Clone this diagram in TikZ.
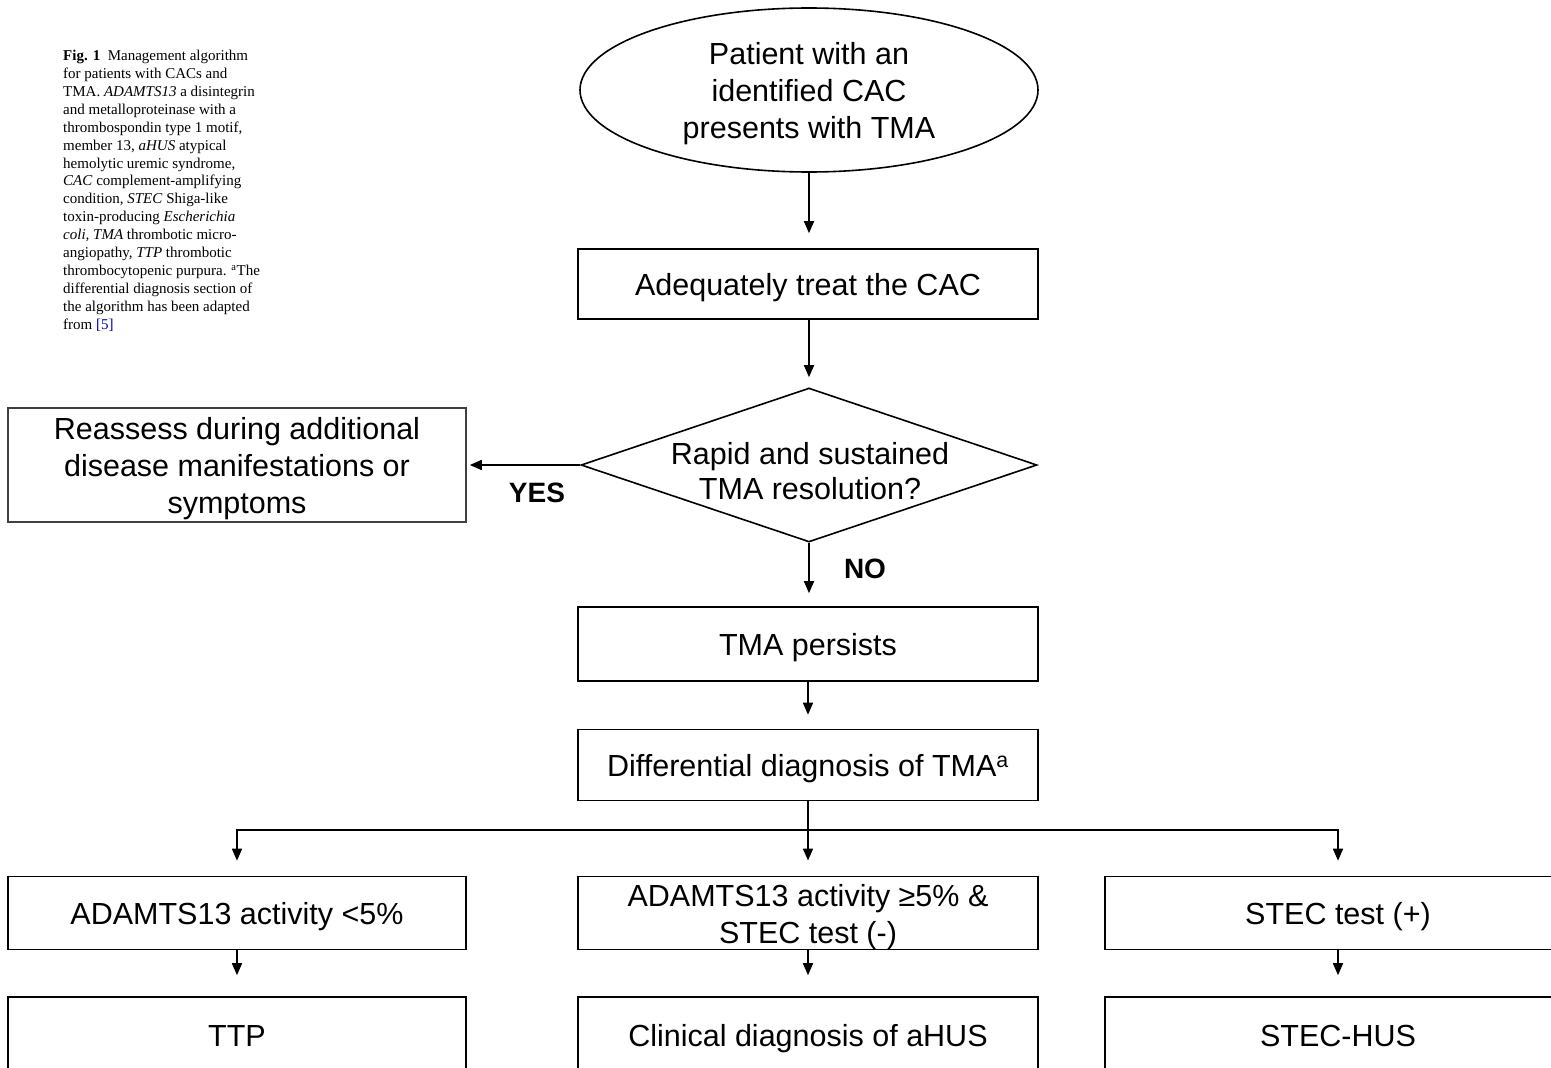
\documentclass[tikz,border=0pt]{standalone}
\usepackage{fontspec}
\setmainfont{Liberation Serif}
\newfontfamily\arialf{Liberation Sans}
\usetikzlibrary{shapes.geometric,arrows.meta}
\newcommand\dn{\rule[-7pt]{0pt}{37pt}}
\newcommand\up{\rule{0pt}{30pt}}
\begin{document}
\begin{tikzpicture}[x=1pt,y=-1pt,
 box/.style={draw=black, line width=1.6pt, rectangle, inner sep=0pt, align=center, font=\arialf\fontsize{30.5}{37}\selectfont},
 txt/.style={inner sep=0pt, align=center, font=\arialf\fontsize{30.5}{35}\selectfont},
 arr/.style={line width=1.6pt, -{Triangle[length=12pt,width=10pt]}},
 lbl/.style={inner sep=0pt, font=\arialf\bfseries\fontsize{28}{34}\selectfont}]
\useasboundingbox (0,0) rectangle (1551,1068);
\clip (0,0) rectangle (1551,1068);
\fill[white] (0,0) rectangle (1551,1068);

\node[anchor=north west, align=left, inner sep=0pt, font=\fontsize{15}{17.9}\selectfont] (cap) at (63,50)
{\textbf{Fig. 1}\enspace Management algorithm\\
for patients with CACs and\\
TMA. \textit{ADAMTS13} a disintegrin\\
and metalloproteinase with a\\
thrombospondin type 1 motif,\\
member 13, \textit{aHUS} atypical\\
hemolytic uremic syndrome,\\
\textit{CAC} complement-amplifying\\
condition, \textit{STEC} Shiga-like\\
toxin-producing \textit{Escherichia}\\
\textit{coli, TMA} thrombotic micro-\\
angiopathy, \textit{TTP} thrombotic\\
thrombocytopenic purpura. \textsuperscript{a}The\\
differential diagnosis section of\\
the algorithm has been adapted\\
from \textcolor{blue!70!black}{[5]}};

\node[box, ellipse, minimum width=458pt, minimum height=164pt] (ell) at (809,90)
{\up Patient with an\\identified CAC\\presents with TMA};
\node[box, minimum width=460pt, minimum height=70pt] (b1) at (808,284) {\dn Adequately treat the CAC};
\node[draw=black, line width=1.6pt, diamond, minimum width=456pt, minimum height=154pt, inner sep=0pt] (dec) at (809,465) {};
\node[txt] (dect) at (810,471) {Rapid and sustained\\TMA resolution?};
\node[box, draw=black!75, minimum width=458pt, minimum height=114pt] (re) at (237,465)
{\up Reassess during additional\\disease manifestations or\\symptoms};
\node[box, minimum width=460pt, minimum height=74pt] (b3) at (808,644) {\dn TMA persists};
\node[box, minimum width=460pt, minimum height=71pt] (b4) at (808,765) {\dn Differential diagnosis of TMA\textsuperscript{a}};

\node[box, minimum width=458pt, minimum height=73pt] (r1l) at (237,913) {\dn ADAMTS13 activity {<}5\%};
\node[box, minimum width=460pt, minimum height=73pt] (r1m) at (808,913) {\up ADAMTS13 activity ≥5\% \&\\STEC test (-)};
\node[box, minimum width=466pt, minimum height=73pt] (r1r) at (1338,913) {\dn STEC test (+)};
\node[box, minimum width=458pt, minimum height=76pt] (r2l) at (237,1035) {\dn TTP};
\node[box, minimum width=460pt, minimum height=76pt] (r2m) at (808,1035) {\dn Clinical diagnosis of aHUS};
\node[box, minimum width=466pt, minimum height=76pt] (r2r) at (1338,1035) {\dn STEC-HUS};

\node[lbl] (yes) at (537,493) {YES};
\node[lbl] (no) at (865,569) {NO};

\draw[arr, shorten >=15pt] (ell.south) -- (ell.south |- b1.north);
\draw[arr, shorten >=10pt] (b1.south -| dec.north) -- (dec.north);
\draw[arr, shorten >=3pt] (dec.west) -- (re.east);
\draw[arr, shorten >=13pt] (dec.south) -- (dec.south |- b3.north);
\draw[arr, shorten >=14pt] (b3) -- (b4);
\draw[line width=1.6pt] (b4.south) -- (808,830) coordinate (j);
\draw[arr, shorten >=15pt] (j) -| (r1l.north);
\draw[arr, shorten >=15pt] (j) -- (r1m.north);
\draw[arr, shorten >=15pt] (j) -| (r1r.north);
\draw[arr, shorten >=21pt] (r1l) -- (r2l);
\draw[arr, shorten >=21pt] (r1m) -- (r2m);
\draw[arr, shorten >=21pt] (r1r) -- (r2r);
\end{tikzpicture}
\end{document}
